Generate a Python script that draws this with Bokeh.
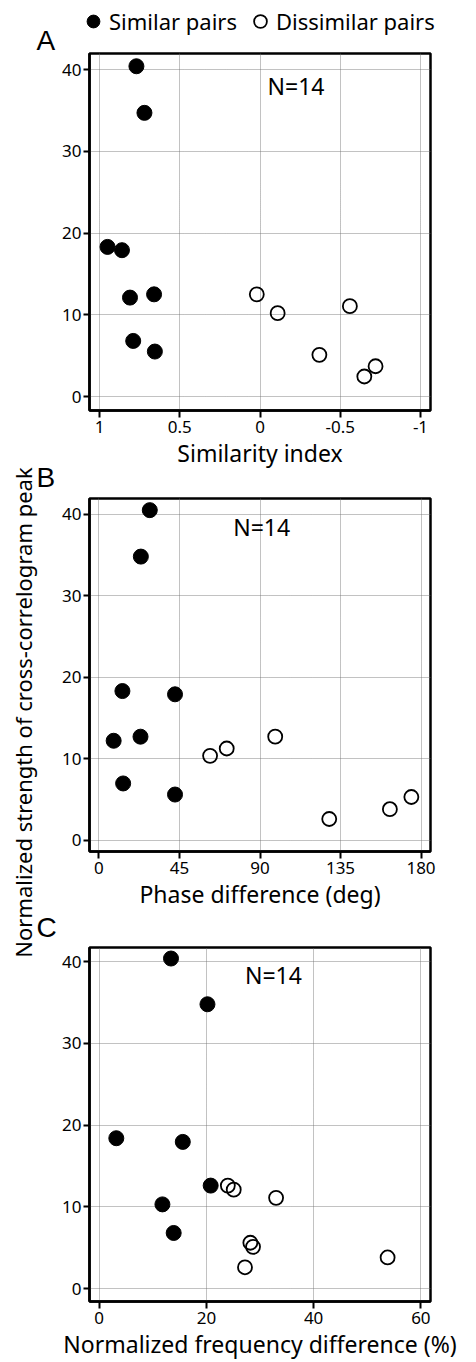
from math import pi
from bokeh.plotting import figure
from bokeh.models import (Range1d, FixedTicker, Label, Legend, LegendItem,
                          CustomJSTickFormatter)
from bokeh.layouts import row, column
from bokeh.embed import file_html
from bokeh.resources import INLINE

# ---------------- data ----------------
y_ticks = [0, 10, 20, 30, 40]

# Panel A: similarity index
a_xticks = [1, 0.5, 0, -0.5, -1]
a_sim_x = [0.77, 0.72, 0.95, 0.86, 0.81, 0.66, 0.79, 0.655]
a_sim_y = [40.4, 34.7, 18.3, 17.9, 12.1, 12.5, 6.8, 5.5]
a_dis_x = [0.02, -0.11, -0.56, -0.37, -0.65, -0.72]
a_dis_y = [12.5, 10.2, 11.05, 5.1, 2.45, 3.7]

# Panel B: phase difference (deg)
b_xticks = [0, 45, 90, 135, 180]
b_sim_x = [28.4, 23.4, 13.1, 42.5, 8.2, 23.2, 13.5, 42.5]
b_sim_y = [40.5, 34.8, 18.3, 17.9, 12.2, 12.7, 6.96, 5.6]
b_dis_x = [62.1, 71.4, 98.5, 128.7, 162.6, 174.6]
b_dis_y = [10.35, 11.25, 12.7, 2.6, 3.8, 5.3]

# Panel C: normalized frequency difference (%)
c_xticks = [0, 20, 40, 60]
c_sim_x = [13.4, 20.2, 3.2, 15.6, 20.8, 11.8, 13.9]
c_sim_y = [40.4, 34.8, 18.4, 17.95, 12.6, 10.3, 6.8]
c_dis_x = [24.0, 25.1, 33.0, 28.2, 28.7, 27.2, 53.8]
c_dis_y = [12.6, 12.1, 11.1, 5.6, 5.1, 2.6, 3.8]

legend_labels = ["Similar pairs", "Dissimilar pairs"]
x_titles = ["Similarity index", "Phase difference (deg)",
            "Normalized frequency difference (%)"]
y_title = "Normalized strength of cross-correlogram peak"
panel_letters = ["A", "B", "C"]
n_text = "N=14"

FONT = "Noto Sans"
LEFT_W = 58          # strip holding the y title and panel letters
TOTAL_H = 1362


def make_panel(xr, yr, xticks, xtitle, sx, sy, dx, dy, top, fh, bottom,
               nx, ny, formatter=None):
    p = figure(frame_width=341, frame_height=fh,
               min_border_left=89 - LEFT_W, min_border_right=46,
               min_border_top=top, min_border_bottom=bottom,
               x_range=Range1d(*xr), y_range=Range1d(*yr),
               output_backend="svg", toolbar_location=None)
    p.outline_line_color = "black"
    p.outline_line_width = 2.5

    p.xaxis.ticker = FixedTicker(ticks=xticks)
    p.yaxis.ticker = FixedTicker(ticks=y_ticks)
    if formatter is not None:
        p.xaxis.formatter = formatter
    for ax in (p.xaxis, p.yaxis):
        ax.axis_line_color = "black"
        ax.axis_line_width = 2.5
        ax.major_tick_in = 0
        ax.major_tick_line_width = 2
        ax.major_tick_line_color = "black"
        ax.minor_tick_line_color = None
        ax.major_label_text_font = FONT
        ax.major_label_text_font_size = "17px"
        ax.major_label_text_color = "black"
    p.xaxis.major_tick_out = 7
    p.xaxis.major_label_standoff = 3
    p.yaxis.major_tick_out = 6
    p.yaxis.major_label_standoff = 2
    p.xaxis.axis_label = xtitle
    p.xaxis.axis_label_text_font = FONT
    p.xaxis.axis_label_text_font_size = "23px"
    p.xaxis.axis_label_text_font_style = "normal"
    p.xaxis.axis_label_text_color = "black"
    p.xaxis.axis_label_standoff = 1

    p.xgrid.ticker = FixedTicker(ticks=xticks)
    p.ygrid.ticker = FixedTicker(ticks=y_ticks)
    for g in (p.xgrid, p.ygrid):
        g.grid_line_color = "#707070"
        g.grid_line_dash = "1 1"
        g.grid_line_width = 1
        g.grid_line_alpha = 0.85

    p.scatter(sx, sy, size=15, fill_color="black", line_color="black")
    p.scatter(dx, dy, size=14, fill_alpha=0, line_color="black",
              line_width=1.8)

    p.add_layout(Label(x=nx, y=ny, text=n_text, text_font=FONT,
                       text_font_size="23px", text_baseline="middle",
                       text_color="black"))
    return p


fmt_a = CustomJSTickFormatter(code="return String(tick)")

pa = make_panel((1.0623, -1.0623), (-1.71, 41.96), a_xticks, x_titles[0],
                a_sim_x, a_sim_y, a_dis_x, a_dis_y, 2, 357, 58,
                -0.047, 38.0, fmt_a)
pb = make_panel((-5.3, 185.3), (-1.39, 41.93), b_xticks, x_titles[1],
                b_sim_x, b_sim_y, b_dis_x, b_dis_y, 27, 353, 64, 75, 38.45)
pc = make_panel((-1.8, 61.8), (-1.59, 41.75), c_xticks, x_titles[2],
                c_sim_x, c_sim_y, c_dis_x, c_dis_y, 32, 354, 64, 27.2, 38.4)

# legend strip above panel A
HA_W, HA_H = 476 - LEFT_W, 51
ha = figure(frame_width=HA_W, frame_height=HA_H,
            min_border_left=0, min_border_right=0,
            min_border_top=0, min_border_bottom=0,
            x_range=Range1d(0, HA_W), y_range=Range1d(100, 100 + HA_H),
            x_axis_location=None, y_axis_location=None,
            output_backend="svg", toolbar_location=None)
ha.outline_line_color = None
ha.xgrid.visible = False
ha.ygrid.visible = False
# legend keys: the panel-A series, whose points lie outside this strip's range
k_sim = ha.scatter(a_sim_x, a_sim_y, size=15, fill_color="black",
                   line_color="black")
k_dis = ha.scatter(a_dis_x, a_dis_y, size=14, fill_alpha=0,
                   line_color="black", line_width=1.8)
legend = Legend(items=[LegendItem(label=legend_labels[0], renderers=[k_sim]),
                       LegendItem(label=legend_labels[1], renderers=[k_dis])],
                orientation="horizontal", location=(77 - LEFT_W, 14),
                glyph_width=32, glyph_height=32, label_standoff=0,
                spacing=7, padding=0, margin=0,
                border_line_color=None, background_fill_alpha=0,
                label_text_font=FONT, label_text_font_size="22px",
                label_text_color="black")
ha.add_layout(legend)

# left strip: y-axis title spanning all panels, and panel letters
py = figure(frame_width=LEFT_W, frame_height=TOTAL_H, min_border=0,
            x_range=Range1d(0, LEFT_W), y_range=Range1d(0, TOTAL_H),
            x_axis_location=None, y_axis_location=None,
            output_backend="svg", toolbar_location=None)
py.outline_line_color = None
py.xgrid.visible = False
py.ygrid.visible = False
py.add_layout(Label(x=22, y=TOTAL_H - 712, angle=pi / 2, text=y_title,
                    text_font=FONT, text_font_size="22px",
                    text_align="center", text_baseline="middle",
                    text_color="black"))
for letter, y_mid in zip(panel_letters, [40, 477, 927]):
    py.add_layout(Label(x=36, y=TOTAL_H - y_mid, text=letter,
                        text_font="Liberation Sans", text_font_size="28px",
                        text_baseline="middle", text_color="black"))

layout = row(py, column(row(ha), pa, pb, pc))
open("out.html", "w").write(file_html(layout, INLINE))
